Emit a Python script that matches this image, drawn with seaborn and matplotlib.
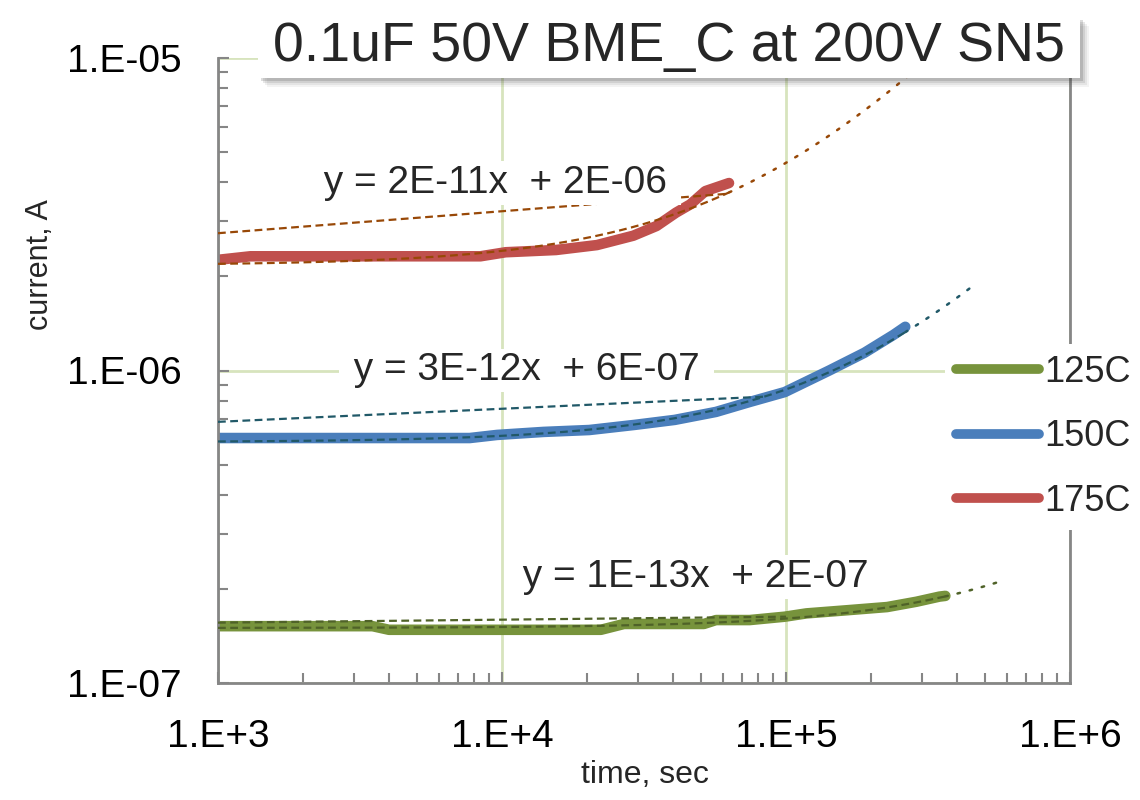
import numpy as np
import pandas as pd
import matplotlib
matplotlib.use("Agg")
import matplotlib.pyplot as plt
import seaborn as sns
from matplotlib.ticker import LogLocator, FuncFormatter, NullFormatter
from matplotlib.patches import Rectangle
from matplotlib.lines import Line2D

# leakage current vs time
t_125 = [1.0e3, 3.5e3, 4.0e3, 2.23e4, 2.69e4, 5.14e4, 5.67e4, 7.45e4, 9.9e4,
         1.18e5, 1.65e5, 2.27e5, 2.88e5, 3.47e5, 3.64e5]
i_125 = [1.52e-7, 1.52e-7, 1.48e-7, 1.48e-7, 1.545e-7, 1.545e-7, 1.59e-7, 1.59e-7, 1.63e-7,
         1.67e-7, 1.71e-7, 1.75e-7, 1.82e-7, 1.89e-7, 1.9e-7]

t_150 = [1.0e3, 7.7e3, 9.6e3, 1.4e4, 2.03e4, 2.94e4, 4.06e4, 5.67e4, 7.45e4,
         9.9e4, 1.42e5, 1.89e5, 2.39e5, 2.63e5]
i_150 = [6.08e-7, 6.08e-7, 6.22e-7, 6.36e-7, 6.45e-7, 6.7e-7, 6.95e-7, 7.37e-7, 7.93e-7,
         8.53e-7, 1.0e-6, 1.14e-6, 1.3e-6, 1.38e-6]

t_175 = [1.0e3, 1.3e3, 3.0e3, 8.4e3, 1.03e4, 1.55e4, 2.16e4, 2.9e4, 3.5e4,
         4.1e4, 4.6e4, 5.2e4, 6.3e4]
i_175 = [2.26e-6, 2.32e-6, 2.32e-6, 2.32e-6, 2.39e-6, 2.43e-6, 2.52e-6, 2.7e-6, 2.9e-6,
         3.2e-6, 3.4e-6, 3.75e-6, 3.98e-6]

labels = ["125C", "150C", "175C"]
colors = ["#77933C", "#4A7EBB", "#C0504D"]
trend_colors = ["#4F6228", "#215968", "#984807"]

# linear trendlines y = a*x + b (Excel), with forecast forward
trend_a = [1.08e-13, 2.8e-12, 2.45e-11]
trend_b = [1.5e-7, 5.9e-7, 2.17e-6]
trend_fwd = [5.5e5, 4.56e5, 3.2e5]
eq_text = [" y = 1E-13x  + 2E-07 ", " y = 3E-12x  + 6E-07 ", " y = 2E-11x  + 2E-06 "]
eq_x = [4.81e4, 1.22e4, 9.46e3]
eq_y = [2.18e-7, 1.0e-6, 3.98e-6]

# second (flat) dashed trendline, end points
flat_x = [[1e3, 1e5], [1e3, 8.5e4], [1e3, 6.3e4]]
flat_y = [[1.56e-7, 1.63e-7], [6.85e-7, 8.25e-7], [2.75e-6, 3.68e-6]]

times = [t_125, t_150, t_175]
currents = [i_125, i_150, i_175]

df = pd.concat([pd.DataFrame({"time": t, "current": c, "temp": lab})
                for t, c, lab in zip(times, currents, labels)], ignore_index=True)

sns.set_theme(style="white")
plt.rcParams["font.family"] = ["Liberation Sans", "DejaVu Sans"]

W, H = 1140, 800
fig = plt.figure(figsize=(W / 100, H / 100), dpi=100)
ax = fig.add_axes([218 / W, 1 - 683 / H, (1070 - 218) / W, (683 - 58) / H])
ax.set_xscale("log")
ax.set_yscale("log")

sns.lineplot(data=df, x="time", y="current", hue="temp", palette=colors,
             sort=False, estimator=None, lw=7.6, legend=False, ax=ax,
             solid_capstyle="round", solid_joinstyle="round", zorder=2)

for k in range(3):
    t_end = max(times[k])
    xs = np.geomspace(1e3, t_end, 200)
    ax.plot(xs, trend_a[k] * xs + trend_b[k], color=trend_colors[k], lw=1.6,
            ls=(0, (3.5, 2)), zorder=3)
    xf = np.geomspace(t_end, trend_fwd[k], 100)
    ax.plot(xf, trend_a[k] * xf + trend_b[k], color=trend_colors[k], lw=1.8,
            ls=(0, (1, 4)), dash_capstyle="round", zorder=3)
    ax.plot(flat_x[k], flat_y[k], color=trend_colors[k], lw=1.6,
            ls=(0, (3.5, 2)), zorder=3)
    ax.text(eq_x[k], eq_y[k], eq_text[k], fontsize=28, ha="center", va="center",
            zorder=4, bbox=dict(boxstyle="square,pad=0.1", fc="white", ec="none"))

ax.set_xlim(1e3, 1e6)
ax.set_ylim(1e-7, 1e-5)

ax.xaxis.set_major_locator(LogLocator(base=10, numticks=10))
ax.xaxis.set_minor_locator(LogLocator(base=10, subs=np.arange(2, 10), numticks=10))
ax.yaxis.set_major_locator(LogLocator(base=10, numticks=10))
ax.yaxis.set_minor_locator(LogLocator(base=10, subs=np.arange(2, 10), numticks=10))
ax.xaxis.set_major_formatter(FuncFormatter(lambda v, p: "1.E+%d" % round(np.log10(v))))
ax.yaxis.set_major_formatter(FuncFormatter(lambda v, p: "1.E-%02d" % round(-np.log10(v))))
ax.xaxis.set_minor_formatter(NullFormatter())
ax.yaxis.set_minor_formatter(NullFormatter())

ax.grid(True, which="major", color="#D7E4BD", lw=2)
ax.set_axisbelow(True)

ax.tick_params(which="both", direction="in", color="#868686", width=1.5,
               bottom=True, left=True, top=False, right=False,
               labelsize=28, labelcolor="black")
ax.tick_params(which="major", length=8)
ax.tick_params(which="minor", length=7)
ax.tick_params(axis="x", pad=26)
ax.tick_params(axis="y", pad=26)

for side in ["left", "bottom", "right"]:
    ax.spines[side].set_color("#868686")
    ax.spines[side].set_linewidth(2)
ax.spines["top"].set_visible(False)

ax.set_xlabel("")
ax.set_ylabel("")
fig.text(645 / W, 1 - 775 / H, "time, sec", fontsize=23, ha="center", va="center")
fig.text(40 / W, 1 - 265 / H, "current, A", fontsize=22, rotation=90,
         ha="center", va="center")

handles = [Line2D([], [], color=c, lw=7, solid_capstyle="round") for c in colors]
leg = fig.legend(handles, labels, loc="center left",
                 bbox_to_anchor=(945 / W, 1 - 437 / H), fontsize=26, frameon=True,
                 handlelength=2.3, handletextpad=0.15, labelspacing=0.82,
                 borderpad=0.3, borderaxespad=0)
leg.get_frame().set_facecolor("white")
leg.get_frame().set_edgecolor("none")
leg.get_frame().set_alpha(1)

# title box with a soft shadow
bx0, bx1, by0, by1 = 258, 1080, 17, 78
for off, a in [(9, 0.06), (7, 0.08), (5, 0.12), (3, 0.18)]:
    fig.add_artist(Rectangle(((bx0 + off) / W, 1 - (by1 + off) / H),
                             (bx1 - bx0) / W, (by1 - by0) / H,
                             transform=fig.transFigure, fc="#404040", ec="none",
                             alpha=a, zorder=5))
fig.add_artist(Rectangle((bx0 / W, 1 - by1 / H), (bx1 - bx0) / W, (by1 - by0) / H,
                         transform=fig.transFigure, fc="white", ec="none", zorder=6))
fig.text((bx0 + bx1) / 2 / W, 1 - (by0 + by1) / 2 / H, "0.1uF 50V BME_C at 200V SN5",
         fontsize=40, ha="center", va="center", zorder=7)

fig.savefig("out.png", dpi=100)
